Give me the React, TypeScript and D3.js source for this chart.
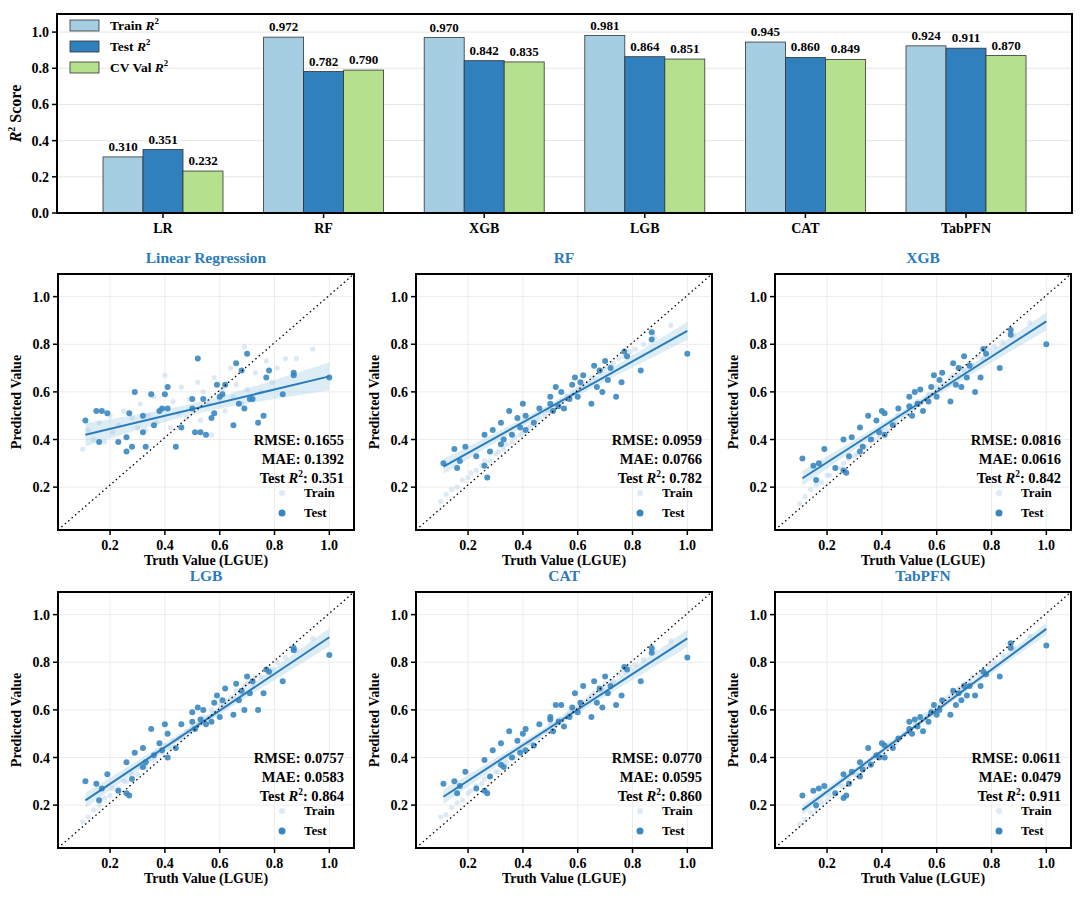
import React from "react";
import * as d3 from "d3";

const models = ["LR", "RF", "XGB", "LGB", "CAT", "TabPFN"];
const titles = ["Linear Regression", "RF", "XGB", "LGB", "CAT", "TabPFN"];
const trainR2 = [0.31, 0.972, 0.97, 0.981, 0.945, 0.924];
const testR2 = [0.351, 0.782, 0.842, 0.864, 0.86, 0.911];
const cvR2 = [0.232, 0.79, 0.835, 0.851, 0.849, 0.87];
const rmse = ["0.1655", "0.0959", "0.0816", "0.0757", "0.0770", "0.0611"];
const mae = ["0.1392", "0.0766", "0.0616", "0.0583", "0.0595", "0.0479"];
// regression line fitted in each panel: intercept, slope
const fitIntercept = [0.39, 0.216, 0.156, 0.135, 0.153, 0.086];
const fitSlope = [0.275, 0.64, 0.74, 0.77, 0.747, 0.854];

const testTruth = [0.11, 0.15, 0.16, 0.17, 0.19, 0.23, 0.26, 0.26, 0.27, 0.28, 0.29, 0.32, 0.32, 0.33, 0.35, 0.36, 0.38, 0.39, 0.4, 0.41, 0.41, 0.44, 0.46, 0.5, 0.5, 0.51, 0.52, 0.53, 0.54, 0.55, 0.57, 0.58, 0.59, 0.6, 0.61, 0.62, 0.65, 0.66, 0.67, 0.68, 0.69, 0.7, 0.71, 0.72, 0.74, 0.76, 0.77, 0.78, 0.83, 0.87, 0.87, 1.0];
const testPred = [
  [0.48, 0.52, 0.39, 0.52, 0.51, 0.39, 0.35, 0.41, 0.51, 0.37, 0.6, 0.5, 0.43, 0.37, 0.59, 0.46, 0.52, 0.53, 0.59, 0.62, 0.53, 0.37, 0.45, 0.57, 0.53, 0.43, 0.74, 0.43, 0.57, 0.42, 0.49, 0.51, 0.63, 0.58, 0.59, 0.63, 0.46, 0.72, 0.55, 0.69, 0.53, 0.76, 0.57, 0.57, 0.47, 0.5, 0.66, 0.69, 0.59, 0.68, 0.67, 0.66],
  [0.3, 0.36, 0.28, 0.31, 0.37, 0.33, 0.29, 0.42, 0.24, 0.35, 0.44, 0.47, 0.38, 0.4, 0.52, 0.42, 0.49, 0.45, 0.55, 0.5, 0.44, 0.47, 0.53, 0.55, 0.58, 0.52, 0.62, 0.54, 0.6, 0.53, 0.57, 0.63, 0.66, 0.58, 0.64, 0.67, 0.55, 0.71, 0.62, 0.69, 0.6, 0.73, 0.65, 0.7, 0.58, 0.64, 0.77, 0.75, 0.69, 0.82, 0.85, 0.76],
  [0.32, 0.29, 0.23, 0.3, 0.36, 0.28, 0.27, 0.4, 0.26, 0.33, 0.41, 0.45, 0.35, 0.37, 0.5, 0.4, 0.48, 0.43, 0.52, 0.51, 0.42, 0.46, 0.53, 0.54, 0.58, 0.5, 0.6, 0.55, 0.61, 0.52, 0.56, 0.62, 0.67, 0.58, 0.65, 0.68, 0.56, 0.72, 0.63, 0.7, 0.62, 0.75, 0.66, 0.71, 0.6, 0.66, 0.78, 0.76, 0.7, 0.84, 0.86, 0.8],
  [0.3, 0.29, 0.22, 0.27, 0.33, 0.26, 0.25, 0.38, 0.24, 0.31, 0.42, 0.44, 0.36, 0.38, 0.52, 0.41, 0.46, 0.43, 0.54, 0.5, 0.4, 0.44, 0.54, 0.55, 0.59, 0.52, 0.61, 0.56, 0.6, 0.54, 0.55, 0.63, 0.66, 0.57, 0.64, 0.69, 0.58, 0.71, 0.64, 0.68, 0.6, 0.74, 0.67, 0.72, 0.6, 0.67, 0.77, 0.76, 0.72, 0.85, 0.86, 0.83],
  [0.29, 0.3, 0.25, 0.28, 0.34, 0.27, 0.26, 0.39, 0.25, 0.32, 0.43, 0.46, 0.37, 0.36, 0.51, 0.4, 0.47, 0.42, 0.5, 0.52, 0.43, 0.45, 0.54, 0.56, 0.57, 0.51, 0.62, 0.55, 0.62, 0.53, 0.57, 0.61, 0.67, 0.59, 0.63, 0.7, 0.57, 0.72, 0.63, 0.69, 0.61, 0.74, 0.67, 0.7, 0.62, 0.66, 0.78, 0.77, 0.72, 0.84, 0.86, 0.82],
  [0.24, 0.26, 0.2, 0.27, 0.28, 0.25, 0.23, 0.33, 0.24, 0.29, 0.34, 0.38, 0.32, 0.35, 0.44, 0.37, 0.41, 0.4, 0.46, 0.45, 0.4, 0.44, 0.48, 0.52, 0.55, 0.5, 0.56, 0.53, 0.57, 0.51, 0.55, 0.59, 0.62, 0.58, 0.6, 0.64, 0.58, 0.68, 0.62, 0.67, 0.64, 0.7, 0.66, 0.7, 0.66, 0.7, 0.76, 0.75, 0.74, 0.86, 0.88, 0.87],
];

const trainTruth = [0.1, 0.12, 0.14, 0.16, 0.18, 0.2, 0.21, 0.23, 0.25, 0.26, 0.28, 0.3, 0.31, 0.33, 0.34, 0.36, 0.37, 0.39, 0.4, 0.42, 0.43, 0.45, 0.46, 0.48, 0.49, 0.5, 0.52, 0.53, 0.54, 0.56, 0.57, 0.58, 0.6, 0.61, 0.62, 0.64, 0.65, 0.66, 0.68, 0.69, 0.7, 0.72, 0.73, 0.75, 0.77, 0.79, 0.81, 0.84, 0.88, 0.94];
const trainPred = [
  [0.36, 0.44, 0.4, 0.47, 0.39, 0.5, 0.43, 0.46, 0.52, 0.41, 0.49, 0.45, 0.55, 0.44, 0.5, 0.58, 0.47, 0.53, 0.67, 0.45, 0.56, 0.51, 0.62, 0.49, 0.57, 0.53, 0.64, 0.48, 0.6, 0.55, 0.42, 0.66, 0.57, 0.61, 0.52, 0.7, 0.58, 0.63, 0.55, 0.79, 0.61, 0.57, 0.68, 0.6, 0.73, 0.64, 0.7, 0.74, 0.74, 0.78],
  [0.14, 0.17, 0.19, 0.2, 0.23, 0.24, 0.26, 0.27, 0.29, 0.31, 0.31, 0.34, 0.35, 0.36, 0.38, 0.39, 0.41, 0.42, 0.43, 0.45, 0.46, 0.48, 0.49, 0.5, 0.52, 0.52, 0.54, 0.55, 0.56, 0.58, 0.58, 0.6, 0.61, 0.62, 0.63, 0.64, 0.66, 0.66, 0.68, 0.69, 0.7, 0.71, 0.72, 0.74, 0.75, 0.77, 0.78, 0.8, 0.83, 0.88],
  [0.13, 0.16, 0.19, 0.21, 0.22, 0.25, 0.25, 0.28, 0.28, 0.3, 0.32, 0.33, 0.34, 0.37, 0.37, 0.4, 0.4, 0.41, 0.44, 0.44, 0.47, 0.47, 0.5, 0.49, 0.51, 0.53, 0.53, 0.56, 0.55, 0.57, 0.59, 0.59, 0.62, 0.61, 0.64, 0.63, 0.66, 0.67, 0.67, 0.7, 0.69, 0.72, 0.71, 0.75, 0.74, 0.78, 0.79, 0.81, 0.84, 0.89],
  [0.13, 0.15, 0.18, 0.2, 0.23, 0.24, 0.27, 0.27, 0.3, 0.3, 0.33, 0.33, 0.36, 0.36, 0.39, 0.39, 0.42, 0.42, 0.45, 0.44, 0.47, 0.48, 0.49, 0.51, 0.51, 0.53, 0.54, 0.55, 0.57, 0.57, 0.6, 0.59, 0.62, 0.62, 0.64, 0.65, 0.65, 0.68, 0.67, 0.7, 0.71, 0.71, 0.74, 0.74, 0.77, 0.77, 0.8, 0.82, 0.85, 0.9],
  [0.15, 0.16, 0.19, 0.21, 0.22, 0.25, 0.26, 0.28, 0.29, 0.31, 0.32, 0.34, 0.34, 0.37, 0.38, 0.4, 0.4, 0.43, 0.43, 0.46, 0.46, 0.48, 0.49, 0.51, 0.51, 0.54, 0.54, 0.56, 0.56, 0.58, 0.59, 0.6, 0.61, 0.63, 0.63, 0.65, 0.66, 0.67, 0.68, 0.69, 0.71, 0.72, 0.72, 0.75, 0.76, 0.78, 0.79, 0.81, 0.85, 0.89],
  [0.12, 0.14, 0.17, 0.18, 0.21, 0.22, 0.24, 0.25, 0.28, 0.28, 0.3, 0.33, 0.33, 0.35, 0.36, 0.38, 0.4, 0.41, 0.42, 0.44, 0.46, 0.46, 0.48, 0.5, 0.5, 0.52, 0.54, 0.54, 0.56, 0.58, 0.58, 0.6, 0.61, 0.62, 0.64, 0.65, 0.66, 0.67, 0.69, 0.69, 0.71, 0.72, 0.74, 0.75, 0.77, 0.79, 0.8, 0.83, 0.86, 0.91],
];

const FONT = "'Liberation Serif', 'Times New Roman', serif";
const BLUE = "#2b7bba";
const barColors = ["#a6cee3", "#2f80bd", "#b5e08d"];
const barLabels = ["Train", "Test", "CV Val"];

const RSup: React.FC<{ prefix: string; suffix?: string }> = ({ prefix, suffix }) => (
  <>
    {prefix}
    <tspan fontStyle="italic">R</tspan>
    <tspan dy={-6} fontSize="0.65em">2</tspan>
    {suffix ? <tspan dy={6}>{suffix}</tspan> : null}
  </>
);

const BarPanel: React.FC = () => {
  const left = 57, right = 1072, top = 14, bottom = 213;
  const x = d3.scalePoint<string>().domain(models).range([163, 966]);
  const y = d3.scaleLinear().domain([0, 1.1]).range([bottom, top]);
  const bw = 40;
  const series = [trainR2, testR2, cvR2];
  return (
    <g fontFamily={FONT} fontWeight="bold">
      {y.ticks(6).filter((t) => t <= 1).map((t) => (
        <g key={t}>
          <line x1={left} x2={right} y1={y(t)} y2={y(t)} stroke="#e6e6e6" />
          <line x1={left - 5} x2={left} y1={y(t)} y2={y(t)} stroke="#000" strokeWidth={1.5} />
          <text x={left - 8} y={y(t) + 5} textAnchor="end" fontSize={14}>{t.toFixed(1)}</text>
        </g>
      ))}
      {models.map((m, i) =>
        series.map((s, k) => {
          const bx = (x(m) as number) - 1.5 * bw + k * bw;
          return (
            <g key={m + k}>
              <rect x={bx} y={y(s[i])} width={bw} height={bottom - y(s[i])} fill={barColors[k]} stroke="#333" strokeWidth={0.8} />
              <text x={bx + bw / 2} y={y(s[i]) - 6} textAnchor="middle" fontSize={13}>{s[i].toFixed(3)}</text>
            </g>
          );
        })
      )}
      {models.map((m) => (
        <g key={m}>
          <line x1={x(m)} x2={x(m)} y1={bottom} y2={bottom + 5} stroke="#000" strokeWidth={1.5} />
          <text x={x(m)} y={bottom + 20} textAnchor="middle" fontSize={14}>{m}</text>
        </g>
      ))}
      <rect x={left} y={top} width={right - left} height={bottom - top} fill="none" stroke="#000" strokeWidth={2} />
      <text transform={`translate(21,${(top + bottom) / 2}) rotate(-90)`} textAnchor="middle" fontSize={16}>
        <tspan fontStyle="italic">R</tspan>
        <tspan dy={-6} fontSize={10}>2</tspan>
        <tspan dy={6}> Score</tspan>
      </text>
      {barLabels.map((l, k) => (
        <g key={l} transform={`translate(70,${20 + k * 21})`}>
          <rect width={29} height={11} fill={barColors[k]} stroke="#333" strokeWidth={0.8} />
          <text x={40} y={10} fontSize={13.5}><RSup prefix={l + " "} /></text>
        </g>
      ))}
    </g>
  );
};

const ScatterPanel: React.FC<{ i: number; ox: number; oy: number }> = ({ i, ox, oy }) => {
  const w = 296, h = 256;
  const x = d3.scaleLinear().domain([0.01, 1.09]).range([ox, ox + w]);
  const y = d3.scaleLinear().domain([0.02, 1.095]).range([oy + h, oy]);
  const ticks = [0.2, 0.4, 0.6, 0.8, 1.0];
  const b0 = fitIntercept[i], b1 = fitSlope[i];
  const px = testTruth, py = testPred[i];
  const n = px.length;
  const mx = d3.mean(px) as number;
  const sxx = d3.sum(px, (v) => (v - mx) ** 2);
  const s = Math.sqrt(d3.sum(px, (v, j) => (py[j] - b0 - b1 * v) ** 2) / (n - 2));
  const xs = d3.range(0.11, 1.001, 0.01);
  const half = (v: number) => 1.96 * s * Math.sqrt(1 / n + (v - mx) ** 2 / sxx);
  const band = d3.area<number>().x((v) => x(v)).y0((v) => y(b0 + b1 * v - half(v))).y1((v) => y(b0 + b1 * v + half(v)));
  const right = ox + w;
  return (
    <g fontFamily={FONT} fontWeight="bold">
      {ticks.map((t) => (
        <g key={t}>
          <line x1={x(t)} x2={x(t)} y1={oy} y2={oy + h} stroke="#ececec" />
          <line x1={ox} x2={right} y1={y(t)} y2={y(t)} stroke="#ececec" />
          <line x1={x(t)} x2={x(t)} y1={oy + h} y2={oy + h + 5} stroke="#000" strokeWidth={1.5} />
          <line x1={ox - 5} x2={ox} y1={y(t)} y2={y(t)} stroke="#000" strokeWidth={1.5} />
          <text x={x(t)} y={oy + h + 20} textAnchor="middle" fontSize={14}>{t.toFixed(1)}</text>
          <text x={ox - 8} y={y(t) + 5} textAnchor="end" fontSize={14}>{t.toFixed(1)}</text>
        </g>
      ))}
      {trainTruth.map((v, j) => (
        <circle key={"tr" + j} cx={x(v)} cy={y(trainPred[i][j])} r={2.6} fill="#c6dbef" opacity={0.6} />
      ))}
      <path d={band(xs) as string} fill="#9ecae1" opacity={0.35} />
      {px.map((v, j) => (
        <circle key={"te" + j} cx={x(v)} cy={y(py[j])} r={3} fill="#3a87c0" opacity={0.9} />
      ))}
      <line x1={x(0.11)} x2={x(1.0)} y1={y(b0 + b1 * 0.11)} y2={y(b0 + b1 * 1.0)} stroke={BLUE} strokeWidth={2} />
      <line x1={ox} y1={oy + h} x2={right} y2={oy} stroke="#000" strokeWidth={1.3} strokeDasharray="1.5,3" />
      <rect x={ox} y={oy} width={w} height={h} fill="none" stroke="#000" strokeWidth={2} />
      <text x={(ox + right) / 2} y={oy - 11} textAnchor="middle" fontSize={15.5} fill={BLUE}>{titles[i]}</text>
      <text x={(ox + right) / 2} y={oy + h + 35} textAnchor="middle" fontSize={14}>Truth Value (LGUE)</text>
      <text transform={`translate(${ox - 37},${oy + h / 2}) rotate(-90)`} textAnchor="middle" fontSize={14}>Predicted Value</text>
      <g fontSize={14.5} textAnchor="end">
        <text x={right - 10} y={oy + 171}>RMSE: {rmse[i]}</text>
        <text x={right - 10} y={oy + 190}>MAE: {mae[i]}</text>
        <text x={right - 10} y={oy + 209}><RSup prefix="Test " suffix={": " + testR2[i].toFixed(3)} /></text>
      </g>
      <circle cx={right - 72} cy={oy + 219} r={3} fill="#c6dbef" opacity={0.6} />
      <text x={right - 50} y={oy + 223} fontSize={13}>Train</text>
      <circle cx={right - 72} cy={oy + 239} r={3.5} fill="#3a87c0" />
      <text x={right - 50} y={oy + 243} fontSize={13}>Test</text>
    </g>
  );
};

const App: React.FC = () => {
  const cols = [58, 416, 775];
  const rows = [274, 592];
  return (
    <svg width={1080} height={899} style={{ position: "absolute", left: 0, top: 0, background: "#fff" }}>
      <BarPanel />
      {models.map((m, i) => (
        <ScatterPanel key={m} i={i} ox={cols[i % 3]} oy={rows[Math.floor(i / 3)]} />
      ))}
    </svg>
  );
};

export default App;
